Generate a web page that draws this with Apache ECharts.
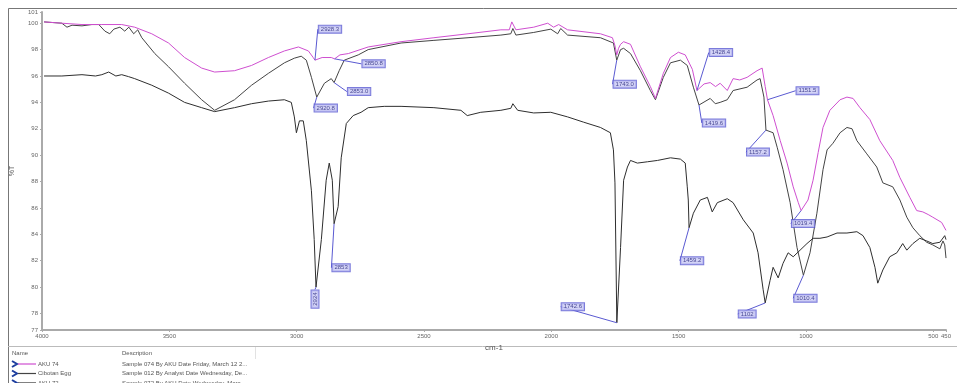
<!DOCTYPE html>
<html>
<head>
<meta charset="utf-8">
<script src="https://cdn.jsdelivr.net/npm/echarts@6/dist/echarts.min.js"></script>
<style>
  html, body { margin: 0; padding: 0; background: #fff; }
  #chart { width: 957px; height: 383px; }
</style>
</head>
<body>
<div id="chart"></div>
<script>
// FTIR spectra, wavenumber (cm-1) vs %T
const aku74Wn = [3992, 3922, 3843, 3765, 3687, 3636, 3569, 3503, 3440, 3373, 3322, 3244, 3177, 3111, 3048, 2993, 2954, 2935, 2928, 2900, 2864, 2851, 2830, 2797, 2719, 2590, 2461, 2327, 2198, 2165, 2155, 2139, 2069, 2014, 1991, 1971, 1936, 1807, 1760, 1750, 1743, 1736, 1728, 1716, 1689, 1650, 1611, 1591, 1560, 1532, 1501, 1474, 1446, 1428, 1400, 1376, 1355, 1337, 1309, 1286, 1260, 1231, 1192, 1172, 1160, 1151, 1129, 1101, 1074, 1050, 1030, 1019, 992, 972, 952, 933, 906, 866, 839, 815, 788, 749, 710, 659, 631, 592, 565, 541, 520, 502, 467, 450];
const aku74T = [100.1, 100.0, 99.9, 99.9, 99.9, 99.7, 99.2, 98.5, 97.4, 96.6, 96.3, 96.4, 96.8, 97.4, 97.9, 98.2, 97.9, 97.4, 97.2, 97.4, 97.4, 97.3, 97.6, 97.7, 98.2, 98.6, 98.9, 99.2, 99.5, 99.5, 100.1, 99.5, 99.7, 100.0, 99.7, 99.9, 99.5, 99.2, 98.9, 98.3, 97.6, 98.1, 98.4, 98.6, 98.4, 96.7, 95.2, 94.3, 96.2, 97.4, 97.8, 97.6, 96.5, 94.9, 95.4, 95.5, 95.2, 95.45, 94.9, 95.8, 95.7, 95.9, 96.4, 96.6, 95.2, 94.2, 93.0, 91.1, 89.4, 87.6, 86.4, 85.8, 86.6, 88.1, 90.2, 92.1, 93.4, 94.2, 94.4, 94.3, 93.6, 92.7, 91.1, 89.6, 88.3, 86.8, 85.8, 85.7, 85.5, 85.3, 84.9, 84.3];

const cibotanWn = [3992, 3922, 3902, 3882, 3843, 3804, 3777, 3753, 3734, 3718, 3694, 3675, 3659, 3640, 3624, 3608, 3557, 3503, 3440, 3373, 3322, 3244, 3177, 3111, 3048, 3009, 2982, 2962, 2942, 2921, 2891, 2864, 2853, 2833, 2813, 2758, 2719, 2590, 2461, 2327, 2198, 2159, 2151, 2139, 2069, 2002, 1975, 1963, 1936, 1807, 1756, 1743, 1728, 1716, 1689, 1650, 1611, 1591, 1560, 1532, 1493, 1466, 1442, 1420, 1376, 1356, 1337, 1309, 1286, 1231, 1192, 1180, 1165, 1157, 1129, 1113, 1090, 1062, 1035, 1010, 984, 957, 933, 917, 894, 866, 839, 819, 800, 761, 722, 698, 659, 631, 604, 580, 553, 526, 502, 474, 462, 455, 450];
const cibotanT = [100.1, 100.0, 99.7, 99.85, 99.8, 99.9, 99.9, 99.4, 99.2, 99.55, 99.7, 99.4, 99.7, 99.2, 99.5, 98.9, 97.7, 96.7, 95.45, 94.2, 93.4, 94.2, 95.3, 96.2, 97.0, 97.35, 97.5, 97.2, 95.9, 94.4, 95.45, 95.8, 95.5, 96.4, 97.2, 97.6, 98.0, 98.5, 98.7, 98.9, 99.1, 99.2, 99.6, 99.1, 99.3, 99.55, 99.2, 99.6, 99.1, 98.9, 98.5, 97.2, 98.0, 98.1, 97.7, 96.4, 94.9, 94.2, 95.9, 97.0, 97.2, 96.8, 95.15, 93.8, 94.3, 93.9, 94.0, 94.2, 94.9, 95.15, 95.7, 95.8, 94.4, 91.9, 91.7, 90.6, 88.9, 86.4, 83.0, 80.9, 82.6, 85.6, 88.9, 90.4, 90.9, 91.7, 92.1, 92.0, 91.1, 90.1, 89.1, 87.9, 87.6, 86.6, 85.3, 84.5, 83.9, 83.4, 83.2, 82.9, 83.5, 83.2, 82.2];

const aku72Wn = [3992, 3922, 3843, 3790, 3765, 3738, 3710, 3687, 3660, 3636, 3569, 3503, 3440, 3373, 3322, 3244, 3177, 3111, 3048, 3021, 3009, 3001, 2989, 2974, 2962, 2942, 2931, 2924, 2903, 2884, 2872, 2860, 2853, 2837, 2825, 2805, 2778, 2747, 2719, 2656, 2590, 2461, 2355, 2330, 2277, 2198, 2159, 2151, 2132, 2069, 2002, 1936, 1873, 1807, 1768, 1756, 1750, 1742.6, 1728, 1716, 1701, 1689, 1662, 1622, 1583, 1532, 1493, 1474, 1466, 1462, 1459, 1442, 1415, 1387, 1368, 1348, 1309, 1286, 1246, 1207, 1188, 1168, 1160, 1141, 1129, 1109, 1090, 1070, 1050, 1023, 996, 972, 945, 917, 878, 839, 800, 776, 749, 729, 718, 698, 671, 643, 620, 604, 580, 553, 526, 502, 474, 455, 450];
const aku72T = [96.0, 96.0, 96.1, 96.0, 96.1, 96.3, 96.0, 96.1, 95.95, 95.8, 95.3, 94.7, 94.0, 93.6, 93.3, 93.6, 93.9, 94.1, 94.2, 94.0, 92.9, 91.7, 92.6, 92.6, 91.1, 87.3, 83.6, 80.0, 83.6, 88.1, 89.4, 88.1, 84.8, 86.1, 89.8, 92.4, 93.0, 93.25, 93.6, 93.7, 93.7, 93.6, 93.4, 93.0, 93.25, 93.4, 93.55, 93.9, 93.4, 93.2, 93.25, 92.9, 92.5, 92.1, 91.7, 90.4, 87.9, 77.3, 83.0, 88.1, 89.1, 89.6, 89.4, 89.5, 89.6, 89.8, 89.7, 89.4, 87.6, 86.6, 84.5, 85.6, 86.6, 86.8, 85.7, 86.4, 86.7, 86.4, 85.1, 84.1, 82.6, 79.8, 78.8, 80.5, 81.5, 80.7, 81.8, 82.6, 82.3, 82.8, 83.3, 83.7, 83.7, 83.8, 84.1, 84.1, 84.2, 83.9, 83.0, 81.5, 80.3, 81.3, 82.3, 82.6, 83.3, 82.8, 83.3, 83.7, 83.5, 83.3, 83.4, 83.9, 83.6];

const seriesNames = ['AKU 74', 'Cibotan Egg', 'AKU 72'];
const seriesDescs = [
  'Sample 074 By AKU Date Friday, March 12 2...',
  'Sample 012 By Analyst Date Wednesday, De...',
  'Sample 072 By AKU Date Wednesday, Marc...'
];

// peak annotations
const peakTexts = ['2928.3', '2850.8', '2853.0', '2920.8', '1743.0', '1428.4', '1419.6', '1151.5', '1157.2', '1019.4', '1010.4', '1102', '1459.2', '1742.6', '2853', '2924'];
const peakWn = [2928, 2851, 2853, 2921, 1743, 1428, 1420, 1151, 1157, 1019, 1010, 1160, 1459, 1742.6, 2853, 2924];
const peakT = [97.2, 97.3, 95.5, 94.4, 97.2, 94.9, 93.8, 94.2, 91.9, 85.8, 80.9, 78.8, 84.5, 77.3, 84.8, 80.0];
// label box offsets from the peak (px); the vertical one is in its rotated frame
const peakOffsets = [[15, -31], [39, 5], [25, 9], [9, 11], [8, 24], [24, -38], [15, 18], [40, -9], [-8, 22], [2, 13], [2, 23], [-18, 11], [3, 33], [-44, -16], [7, 44], [-12, -1]];
const verticalPeaks = ['2924'];

const xTicks = [4000, 3500, 3000, 2500, 2000, 1500, 1000, 500, 450];
const yTicks = [76.75, 78, 80, 82, 84, 86, 88, 90, 92, 94, 96, 98, 100, 100.85];

const colors = ['#cf4fd0', '#444444', '#2e2e2e'];

function pairs(wn, t) {
  return wn.map((w, i) => [w, t[i]]);
}

const chart = echarts.init(document.getElementById('chart'), null, { renderer: 'canvas' });

const legendGraphic = [];
seriesNames.forEach((name, i) => {
  const y = 364 + i * 9.5;
  legendGraphic.push(
    { type: 'polyline', shape: { points: [[12, y - 3], [17, y], [12, y + 3]] }, style: { stroke: '#1f3f9f', lineWidth: 2, fill: null } },
    { type: 'line', shape: { x1: 18, y1: y, x2: 36, y2: y }, style: { stroke: colors[i], lineWidth: 1.2 } },
    { type: 'text', x: 38, y: y, style: { text: name, fill: '#555', font: '6px "Liberation Sans", sans-serif', verticalAlign: 'middle' } },
    { type: 'text', x: 122, y: y, style: { text: seriesDescs[i], fill: '#555', font: '6px "Liberation Sans", sans-serif', verticalAlign: 'middle' } }
  );
});

chart.setOption({
  animation: false,
  backgroundColor: '#fff',
  grid: { left: 42, right: 11, top: 12, bottom: 53, containLabel: false },
  xAxis: {
    type: 'value',
    inverse: true,
    min: 450,
    max: 4000,
    name: 'cm-1',
    nameLocation: 'middle',
    nameGap: 10,
    nameTextStyle: { fontSize: 8, color: '#555', fontFamily: 'Liberation Sans' },
    splitLine: { show: false },
    axisLine: { lineStyle: { color: '#aaa', width: 2 } },
    axisTick: { customValues: xTicks, length: 2, lineStyle: { color: '#aaa' } },
    axisLabel: {
      customValues: xTicks,
      fontSize: 6,
      color: '#666',
      margin: 3,
      fontFamily: 'Liberation Sans',
      formatter: (v) => String(v)
    }
  },
  yAxis: {
    type: 'value',
    min: 76.75,
    max: 100.85,
    name: '%T',
    nameLocation: 'middle',
    nameRotate: 90,
    nameGap: 26,
    nameTextStyle: { fontSize: 7, color: '#666', fontFamily: 'Liberation Sans' },
    splitLine: { show: false },
    axisLine: { show: true, lineStyle: { color: '#aaa', width: 2 } },
    axisTick: { show: true, customValues: yTicks, length: 2, lineStyle: { color: '#aaa' } },
    axisLabel: {
      customValues: yTicks,
      fontSize: 6,
      color: '#666',
      margin: 4,
      fontFamily: 'Liberation Sans',
      formatter: (v) => String(Math.round(v))
    }
  },
  series: [
    {
      name: seriesNames[0],
      type: 'line',
      showSymbol: false,
      data: pairs(aku74Wn, aku74T),
      lineStyle: { color: colors[0], width: 1 },
      z: 3
    },
    {
      name: seriesNames[1],
      type: 'line',
      showSymbol: false,
      data: pairs(cibotanWn, cibotanT),
      lineStyle: { color: colors[1], width: 1 },
      z: 2
    },
    {
      name: seriesNames[2],
      type: 'line',
      showSymbol: false,
      data: pairs(aku72Wn, aku72T),
      lineStyle: { color: colors[2], width: 1 },
      z: 2
    },
    {
      name: 'peaks',
      type: 'scatter',
      symbolSize: 0,
      z: 5,
      data: peakTexts.map((t, i) => ({
        value: [peakWn[i], peakT[i]],
        name: t,
        label: verticalPeaks.includes(t) ? { rotate: 90 } : {}
      })),
      label: {
        show: true,
        position: 'inside',
        formatter: (p) => p.name,
        fontSize: 6,
        color: '#22227a',
        fontFamily: 'Liberation Sans',
        backgroundColor: '#c8c8f4',
        borderColor: '#5a5ad2',
        borderWidth: 1,
        padding: [1, 2, 0, 2]
      },
      labelLine: { show: true, lineStyle: { color: '#5a5ad2', width: 1 } },
      labelLayout: (p) => ({ dx: peakOffsets[p.dataIndex][0], dy: peakOffsets[p.dataIndex][1] })
    }
  ],
  graphic: [
    { type: 'rect', shape: { x: 8.5, y: 8.5, width: 960, height: 400 }, style: { stroke: '#777', lineWidth: 1, fill: null }, silent: true },
    { type: 'line', shape: { x1: 8, y1: 346.5, x2: 957, y2: 346.5 }, style: { stroke: '#bbb', lineWidth: 1 } },
    { type: 'line', shape: { x1: 255.5, y1: 347, x2: 255.5, y2: 359 }, style: { stroke: '#e2e2e2', lineWidth: 1 } },
    { type: 'text', x: 12, y: 353, style: { text: 'Name', fill: '#555', font: '6px "Liberation Sans", sans-serif', verticalAlign: 'middle' } },
    { type: 'text', x: 122, y: 353, style: { text: 'Description', fill: '#555', font: '6px "Liberation Sans", sans-serif', verticalAlign: 'middle' } }
  ].concat(legendGraphic)
});
</script>
</body>
</html>
